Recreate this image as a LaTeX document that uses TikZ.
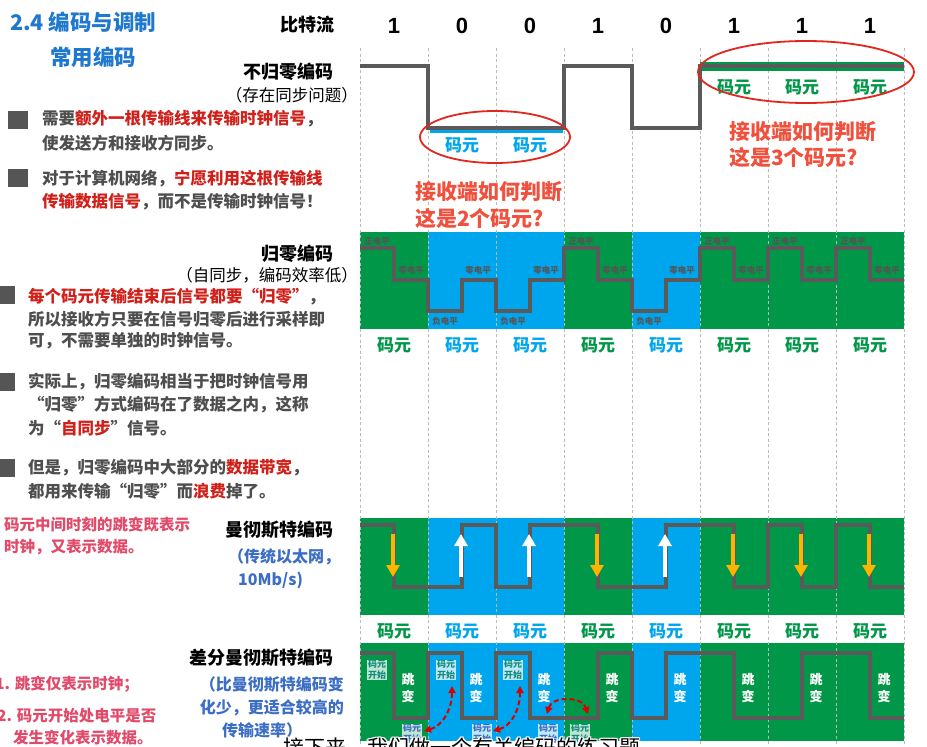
\documentclass[tikz,border=0pt]{standalone}
\usepackage{fontspec}
\setmainfont{Noto Sans CJK SC}
\newfontfamily\latinfont{Liberation Sans}
\usetikzlibrary{arrows.meta}
\definecolor{cgreen}{RGB}{0,152,72}
\definecolor{cblue}{RGB}{0,166,237}
\definecolor{wavec}{RGB}{90,90,90}
\definecolor{txtgray}{RGB}{78,78,78}
\definecolor{sqgray}{RGB}{85,85,85}
\definecolor{hred}{RGB}{208,32,26}
\definecolor{pinkc}{RGB}{226,74,106}
\definecolor{tblue}{RGB}{30,120,205}
\definecolor{nblue}{RGB}{60,110,196}
\definecolor{ored}{RGB}{240,80,60}
\definecolor{ellred}{RGB}{225,40,30}
\definecolor{amber}{RGB}{255,180,0}
\definecolor{cteal}{RGB}{20,140,125}
\definecolor{lvlgray}{RGB}{85,85,85}
\newcommand\fs[1]{\fontsize{#1}{#1}\selectfont}
\begin{document}
\begin{tikzpicture}[x=1pt,y=-1pt,
  gridl/.style={gray!55, line width=0.7, dash pattern=on 3pt off 2.5pt},
  wave/.style={draw=wavec, line width=4, line join=miter},
  hd/.style={font=\bfseries\fs{18}, text=black, inner sep=0},
  subl/.style={font=\fs{16.5}, text=black, inner sep=0},
  bul/.style={font=\bfseries\fs{16.5}, text=txtgray, anchor=west, inner sep=0},
  sq/.style={fill=sqgray},
  note/.style={font=\bfseries\fs{15.5}, text=pinkc, anchor=west, inner sep=0},
  bnote/.style={font=\bfseries\fs{16}, text=nblue, inner sep=0},
  cy/.style={font=\bfseries\fs{17}, inner sep=0},
  lvl/.style={font=\bfseries\fs{8.5}, text=lvlgray, inner sep=0},
  jb/.style={font=\bfseries\fs{13}, text=white, inner sep=0},
  ks/.style={font=\bfseries\fontsize{9}{10.5}\selectfont, align=center, inner sep=1, text=cteal, fill=white, fill opacity=0.75, text opacity=1},
  qred/.style={font=\bfseries\fs{21}, text=ored, anchor=west, inner sep=0},
  rdash/.style={draw=red!85!black, line width=2, dash pattern=on 5pt off 3pt, {Triangle[length=7pt,width=7pt]}-{Triangle[length=7pt,width=7pt]}},
  subt/.style={font=\fs{21}, anchor=west, inner sep=0},
]
\useasboundingbox (0,0) rectangle (927,747);
\clip (0,0) rectangle (927,747);
\fill[white] (0,0) rectangle (927,747);

% ---------- left texts ----------
\node[font=\bfseries\fs{21.5}, text=tblue, anchor=west, inner sep=0] (title) at (10,22) {2.4 编码与调制};
\node[font=\bfseries\fs{21.5}, text=tblue, anchor=west, inner sep=0] (title2) at (50,57) {常用编码};

\node[hd, anchor=east] (hbits) at (335,25) {比特流};
\node[hd, anchor=east] (hnrz) at (334,72) {不归零编码};
\node[subl, anchor=east] (snrz) at (358,95) {（存在同步问题）};

\fill[sq] (8,111) rectangle (28,129);
\node[bul] (b1a) at (42,119) {需要\textcolor{hred}{额外一根传输线来传输时钟信号}，};
\node[bul] (b1b) at (42,143) {使发送方和接收方同步。};
\fill[sq] (8,169) rectangle (28,187);
\node[bul] (b2a) at (42,179) {对于计算机网络，\textcolor{hred}{宁愿利用这根传输线}};
\node[bul] (b2b) at (42,202) {\textcolor{hred}{传输数据信号}，而不是传输时钟信号！};

\node[hd, anchor=east] (hrz) at (334,254) {归零编码};
\node[subl, anchor=east] (srz) at (358,275) {（自同步，编码效率低）};

\fill[sq] (0,286) rectangle (15,304);
\node[bul] (r1a) at (28,297) {\textcolor{hred}{每个码元传输结束后信号都要“归零”}，};
\node[bul] (r1b) at (28,319) {所以接收方只要在信号归零后进行采样即};
\node[bul] (r1c) at (28,341) {可，不需要单独的时钟信号。};
\fill[sq] (0,373) rectangle (15,391);
\node[bul] (r2a) at (28,382) {实际上，归零编码相当于把时钟信号用};
\node[bul] (r2b) at (28,405) {“归零”方式编码在了数据之内，这称};
\node[bul] (r2c) at (28,428) {为“\textcolor{hred}{自同步}”信号。};
\fill[sq] (0,459) rectangle (15,477);
\node[bul] (r3a) at (28,468) {但是，归零编码中大部分的\textcolor{hred}{数据带宽}，};
\node[bul] (r3b) at (28,491) {都用来传输“归零”而\textcolor{hred}{浪费}掉了。};

\node[note] (n1a) at (4,525) {码元中间时刻的跳变既表示};
\node[note] (n1b) at (4,547) {时钟，又表示数据。};
\node[hd, anchor=east] (hman) at (334,530) {曼彻斯特编码};
\node[bnote, anchor=west] (mb1) at (228,557) {（传统以太网，};
\node[bnote, anchor=west] (mb2) at (238,580) {10Mb/s)};

\node[hd, anchor=east] (hdm) at (334,658) {差分曼彻斯特编码};
\node[bnote, anchor=east] (db1) at (344,685) {（比曼彻斯特编码变};
\node[bnote, anchor=east] (db2) at (344,708) {化少，更适合较高的};
\node[bnote, anchor=west] (db3) at (222,730) {传输速率）};
\node[note] (n2a) at (-5,684) {1. 跳变仅表示时钟；};
\node[note] (n2b) at (-3,716) {2. 码元开始处电平是否};
\node[note] (n2c) at (13,738) {发生变化表示数据。};

% ---------- panels ----------
\foreach \b [count=\i from 0] in {1,0,0,1,0,1,1,1}{
  \pgfmathsetmacro\xa{360+68*\i}
  \pgfmathsetmacro\xm{\xa+34}
  \pgfmathsetmacro\xb{\xa+68}
  \ifnum\b=1 \def\cc{cgreen}\else\def\cc{cblue}\fi
  \fill[\cc] (\xa,232) rectangle (\xb,329);
  \fill[\cc] (\xa,518) rectangle (\xb,615);
  \fill[\cc] (\xa,643) rectangle (\xb,741);
  \node[font=\latinfont\bfseries\fs{22}, inner sep=0] (bit\i) at (\xm,26) {\b};
  \node[cy, text=\cc] (rzc\i) at (\xm,345) {码元};
  \node[cy, text=\cc] (mcc\i) at (\xm,631) {码元};
}
% grid
\foreach \i in {0,...,8}{
  \draw[gridl] ({360+68*\i},48) -- ({360+68*\i},747);
}

% ---------- NRZ ----------
\draw[cgreen, line width=9] (700,66) -- (904,66);
\draw[cblue, line width=3] (430,131) -- (563,131);
\draw[wave] (360,66) -- (428,66) -- (428,128) -- (564,128) -- (564,66) -- (632,66) -- (632,128) -- (700,128) -- (700,66) -- (904,66);
\node[cy, text=cblue] (ny1) at (462,145) {码元};
\node[cy, text=cblue] (ny2) at (530,145) {码元};
\node[cy, text=cgreen] (ng1) at (734,87) {码元};
\node[cy, text=cgreen] (ng2) at (802,87) {码元};
\node[cy, text=cgreen] (ng3) at (870,87) {码元};
\draw[ellred, line width=1.8] (495,137) ellipse [x radius=75pt, y radius=26pt];
\draw[ellred, line width=1.8] (806,72) ellipse [x radius=108pt, y radius=31pt];
\node[qred] (q3a) at (729,132) {接收端如何判断};
\node[qred] (q3b) at (729,157) {这是3个码元?};
\begin{scope}
\clip (0,0) rectangle (927,227);
\node[qred] (q2a) at (415,192) {接收端如何判断};
\node[qred] (q2b) at (415,218) {这是2个码元?};
\end{scope}

% ---------- RZ ----------
\draw[wave] (360,248) -- (394,248) -- (394,280) -- (428,280) -- (428,311) -- (462,311) -- (462,280) -- (496,280) -- (496,311) -- (530,311) -- (530,280) -- (564,280) -- (564,248) -- (598,248) -- (598,280) -- (632,280) -- (632,311) -- (666,311) -- (666,280) -- (700,280) -- (700,248) -- (734,248) -- (734,280) -- (768,280) -- (768,248) -- (802,248) -- (802,280) -- (836,280) -- (836,248) -- (870,248) -- (870,280) -- (904,280);
\foreach \b [count=\i from 0] in {1,0,0,1,0,1,1,1}{
  \pgfmathsetmacro\xa{360+68*\i}
  \ifnum\b=1
    \node[lvl] (pos\i) at ({\xa+17},241) {正电平};
    \node[lvl] (zer\i) at ({\xa+51},270) {零电平};
  \else
    \node[lvl] (zer\i) at ({\xa+50},270) {零电平};
    \node[lvl] (neg\i) at ({\xa+17},321) {负电平};
  \fi
}

% ---------- Manchester ----------
\draw[wave] (360,525) -- (394,525) -- (394,587) -- (462,587) -- (462,525) -- (496,525) -- (496,587) -- (530,587) -- (530,525) -- (598,525) -- (598,587) -- (666,587) -- (666,525) -- (734,525) -- (734,587) -- (768,587) -- (768,525) -- (802,525) -- (802,587) -- (836,587) -- (836,525) -- (870,525) -- (870,587) -- (904,587);
\foreach \b [count=\i from 0] in {1,0,0,1,0,1,1,1}{
  \pgfmathsetmacro\xm{360+68*\i+33}
  \ifnum\b=1
    \draw[amber, line width=3.5, -{Triangle[width=13pt,length=12pt]}] (\xm,534) -- (\xm,577);
  \else
    \draw[white, line width=3.5, -{Triangle[width=13pt,length=12pt]}] (\xm,577) -- (\xm,534);
  \fi
}

% ---------- Differential Manchester ----------
\draw[wave] (360,653) -- (394,653) -- (394,718) -- (428,718) -- (428,653) -- (462,653) -- (462,718) -- (496,718) -- (496,653) -- (530,653) -- (530,718) -- (598,718) -- (598,653) -- (632,653) -- (632,718) -- (666,718) -- (666,653) -- (734,653) -- (734,718) -- (802,718) -- (802,653) -- (870,653) -- (870,718) -- (904,718);
\foreach \i in {0,...,7}{
  \pgfmathsetmacro\xj{360+68*\i+48}
  \node[jb] (jt\i) at (\xj,680) {跳};
  \node[jb] (jv\i) at (\xj,696) {变};
}
\node[ks] (ks1) at (377,670) {码元\\开始};
\node[ks] (ks2) at (446,670) {码元\\开始};
\node[ks] (ks3) at (513,670) {码元\\开始};
\node[ks, text=nblue] (kb1) at (412,734) {码元\\开始};
\node[ks, text=nblue] (kb2) at (482,734) {码元\\开始};
\node[ks, text=nblue] (kb3) at (548,734) {码元\\开始};
\node[ks] (kb4) at (580,734) {码元\\开始};
\coordinate (a1s) at (424,731);
\coordinate (a1e) at (452,686);
\coordinate (a2s) at (493,731);
\coordinate (a2e) at (520,686);
\coordinate (a3s) at (547,714);
\coordinate (a3e) at (588,714);
\draw[rdash] (a1s) .. controls (442,726) and (452,710) .. (a1e);
\draw[rdash] (a2s) .. controls (511,726) and (520,710) .. (a2e);
\draw[rdash] (a3s) .. controls (552,696) and (582,696) .. (a3e);

% ---------- subtitle ----------
\foreach \dx/\dy [count=\k] in {-1.5/0,1.5/0,0/-1.5,0/1.5,-1.1/-1.1,1.1/1.1,-1.1/1.1,1.1/-1.1}{
  \node[subt, text=white, shift={(\dx,\dy)}] (sw\k) at (283,748) {接下来，我们做一个有关编码的练习题};
}
\node[subt, text=black] (subtitle) at (283,748) {接下来，我们做一个有关编码的练习题};
\end{tikzpicture}
\end{document}
